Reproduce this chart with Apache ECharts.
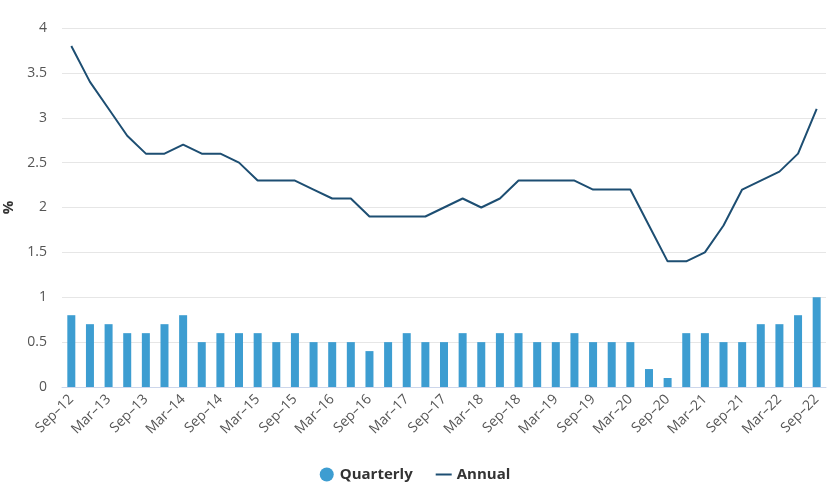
<!DOCTYPE html>
<html>
<head>
<meta charset="utf-8">
<script src="https://cdn.jsdelivr.net/npm/echarts@6/dist/echarts.min.js"></script>
<style>html,body{margin:0;padding:0;background:#fff;}#c{width:830px;height:495px;}</style>
</head>
<body>
<div id="c"></div>
<script>
const categories = ["Sep–12","Dec–12","Mar–13","Jun–13","Sep–13","Dec–13","Mar–14","Jun–14","Sep–14","Dec–14",
"Mar–15","Jun–15","Sep–15","Dec–15","Mar–16","Jun–16","Sep–16","Dec–16","Mar–17","Jun–17",
"Sep–17","Dec–17","Mar–18","Jun–18","Sep–18","Dec–18","Mar–19","Jun–19","Sep–19","Dec–19",
"Mar–20","Jun–20","Sep–20","Dec–20","Mar–21","Jun–21","Sep–21","Dec–21","Mar–22","Jun–22","Sep–22"];
const quarterly = [0.8,0.7,0.7,0.6,0.6,0.7,0.8,0.5,0.6,0.6,
0.6,0.5,0.6,0.5,0.5,0.5,0.4,0.5,0.6,0.5,
0.5,0.6,0.5,0.6,0.6,0.5,0.5,0.6,0.5,0.5,
0.5,0.2,0.1,0.6,0.6,0.5,0.5,0.7,0.7,0.8,1.0];
const annual = [3.8,3.4,3.1,2.8,2.6,2.6,2.7,2.6,2.6,2.5,
2.3,2.3,2.3,2.2,2.1,2.1,1.9,1.9,1.9,1.9,
2.0,2.1,2.0,2.1,2.3,2.3,2.3,2.3,2.2,2.2,
2.2,1.8,1.4,1.4,1.5,1.8,2.2,2.3,2.4,2.6,3.1];
const yTicks = [0,0.5,1,1.5,2,2.5,3,3.5,4];

const chart = echarts.init(document.getElementById('c'));
const font = '"Open Sans", "DejaVu Sans", sans-serif';
chart.setOption({
  animation: false,
  textStyle: {fontFamily: font},
  grid: {left: 62, right: 4, top: 28, bottom: 108, outerBoundsMode: 'none', containLabel: false},
  legend: {
    bottom: 8, left: 'center', itemGap: 22, itemWidth: 16, itemHeight: 14,
    textStyle: {fontFamily: font, fontSize: 15, fontWeight: 'bold', color: '#333'},
    data: [{name: 'Quarterly', icon: 'circle'}, {name: 'Annual', itemStyle: {opacity: 0}}]
  },
  xAxis: {
    type: 'category', data: categories, boundaryGap: true,
    axisLine: {lineStyle: {color: '#ccd6eb'}},
    axisTick: {show: false},
    axisLabel: {interval: 1, rotate: 45, color: '#555', fontSize: 14, margin: 10, fontFamily: font}
  },
  yAxis: {
    type: 'value', min: yTicks[0], max: yTicks[yTicks.length-1], interval: 0.5,
    name: '%', nameLocation: 'middle', nameGap: 43, nameRotate: 90,
    nameTextStyle: {fontSize: 15, fontWeight: 'bold', color: '#333', fontFamily: font},
    axisLine: {show: false}, axisTick: {show: false},
    axisLabel: {color: '#555', fontSize: 14, margin: 15, fontFamily: font},
    splitLine: {lineStyle: {color: '#e6e6e6'}}
  },
  series: [
    {name: 'Quarterly', type: 'bar', data: quarterly, barWidth: 8,
     itemStyle: {color: '#3d9dd1'}},
    {name: 'Annual', type: 'line', data: annual, symbol: 'none',
     lineStyle: {color: '#1d4e72', width: 2}, itemStyle: {color: '#1d4e72'}}
  ]
});
</script>
</body>
</html>
